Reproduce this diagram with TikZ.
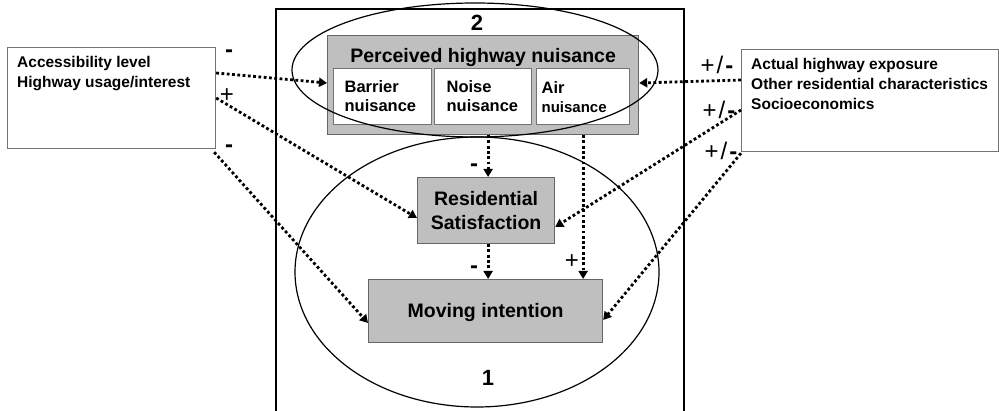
\documentclass[tikz,border=0pt]{standalone}
\usepackage{fontspec}
\setmainfont{Liberation Sans}
\usetikzlibrary{arrows.meta}
\begin{document}
\begin{tikzpicture}[x=1pt,y=-1pt,
  wbox/.style={draw=black!55, line width=1.2pt, fill=white, inner sep=0pt, anchor=north west},
  gbox/.style={draw=black!60, line width=1.2pt, fill=black!25, inner sep=0pt, anchor=north west},
  dotarrow/.style={line width=2.8pt, dash pattern=on 2.8pt off 2.5pt, -{Triangle[length=8pt,width=9pt]}},
  sign/.style={font=\fontsize{24}{24}\selectfont, inner sep=0pt},
  num/.style={font=\fontsize{22}{22}\selectfont\bfseries, inner sep=0pt},
  ell/.style={line width=1.2pt},
  subtxt/.style={font=\fontsize{16.5}{19}\selectfont\bfseries, align=left},
  bigtxt/.style={font=\fontsize{19.5}{24}\selectfont\bfseries, align=center}]
\useasboundingbox (0,0) rectangle (999,411);

% frame
\draw[line width=2.5pt] (276,411) -- (276,9) -- (684,9) -- (684,411);

% left and right boxes
\node[wbox, minimum width=208pt, minimum height=101pt,
  label={[anchor=north west, inner sep=0pt, xshift=10pt, yshift=-9pt, align=left,
          font=\fontsize{15.5}{20}\selectfont\bfseries]north west:{Accessibility level\\Highway usage/interest}}]
  (lbox) at (7,47) {};
\node[wbox, minimum width=257pt, minimum height=102pt,
  label={[anchor=north west, inner sep=0pt, xshift=10pt, yshift=-9pt, align=left,
          font=\fontsize{15.5}{20}\selectfont\bfseries]north west:{Actual highway exposure\\Other residential characteristics\\Socioeconomics}}]
  (rbox) at (741,49) {};

% perceived nuisance box
\node[gbox, minimum width=311pt, minimum height=99pt,
  label={[anchor=north, inner sep=0pt, yshift=-13pt, font=\fontsize{19.5}{24}\selectfont\bfseries]north:{Perceived highway nuisance}}]
  (pbox) at (327,35) {};
\node[wbox, minimum width=98pt, minimum height=56pt, text width=76pt, subtxt] (bar) at (333,68) {Barrier\\nuisance};
\node[wbox, minimum width=97pt, minimum height=56pt, text width=73pt, subtxt] (noi) at (434,68) {Noise\\nuisance};
\node[wbox, minimum width=93pt, minimum height=56pt, text width=83pt, subtxt] (air) at (536,68) {Air\\{\fontsize{15}{19}\selectfont nuisance}};

% residential satisfaction and moving intention
\node[gbox, minimum width=137pt, minimum height=66pt, bigtxt] (res) at (417,177) {Residential\\Satisfaction};
\node[gbox, minimum width=234pt, minimum height=63pt, bigtxt, text height=14pt, text depth=2pt] (mov) at (368,279) {Moving intention};

% ellipses
\draw[ell] (475,70) ellipse [x radius=183, y radius=67];
\draw[ell] (477,272) ellipse [x radius=182, y radius=135];

% numbers
\node[num] (n2) at (477,23) {2};
\node[num] (n1) at (488,378) {1};

% connectors
\draw[dotarrow] ([yshift=-26pt]lbox.north east) -- ([yshift=-48pt]pbox.north west);
\draw[dotarrow] ([yshift=-51pt]lbox.north east) -- ([yshift=-41pt]res.north west);
\draw[dotarrow] ([xshift=-2pt,yshift=-3pt]lbox.south east) -- ([yshift=-44pt]mov.north west);
\draw[dotarrow] ([yshift=-31pt]rbox.north west) -- ([yshift=-48pt]pbox.north east);
\draw[dotarrow] ([yshift=-61pt]rbox.north west) -- ([yshift=-50pt]res.north east);
\draw[dotarrow] ([yshift=-1pt]rbox.south west) -- ([yshift=-41pt]mov.north east);

\coordinate (rtop) at ([xshift=2pt]res.north);
\coordinate (rbot) at ([xshift=2pt]res.south);
\draw[dotarrow] (rtop |- pbox.south) -- (rtop);
\draw[dotarrow] (rbot) -- (rbot |- mov.north);
\draw[dotarrow] (air.south |- pbox.south) -- (air.south |- mov.north);

% signs
\node[sign] (s1) at (229,54) {\bfseries -};
\node[sign] (s2) at (227,96) {+};
\node[sign] (s3) at (229,149) {\bfseries -};
\node[sign] (s4) at (717,65) {+\hspace{2pt}/\hspace{2pt}{\bfseries -}};
\node[sign] (s5) at (719,110) {+\hspace{2pt}/\hspace{2pt}{\bfseries -}};
\node[sign] (s6) at (721,151) {+\hspace{2pt}/\hspace{2pt}{\bfseries -}};
\node[sign] (s7) at (474,168) {\bfseries -};
\node[sign] (s8) at (474,270) {\bfseries -};
\node[sign] (s9) at (572,262) {+};
\end{tikzpicture}
\end{document}
